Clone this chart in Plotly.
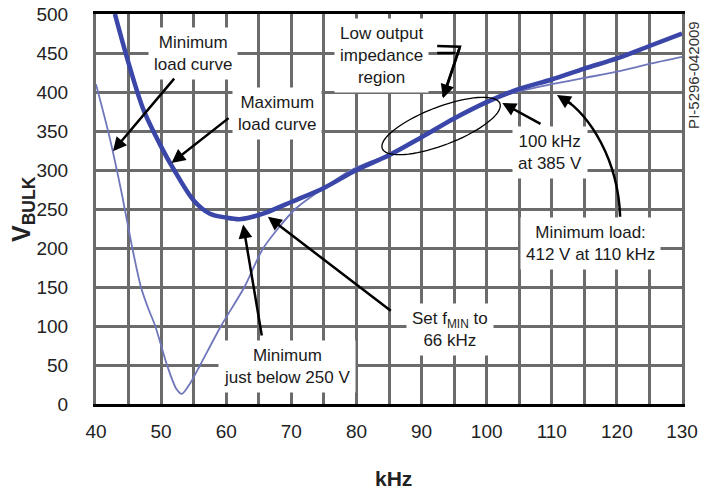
import numpy as np
import plotly.graph_objects as go

# maximum load curve (thick)
khz_max = [42.9, 45, 47.3, 50, 52, 55, 57.5, 60, 62, 64, 66, 70, 75, 80,
           85, 90, 95, 100, 105, 110, 115, 120, 125, 130]
v_max = [500, 437, 377, 330, 300, 261, 244, 239, 237, 240, 245, 259, 277, 300,
         319, 342, 366, 387, 404, 416, 430, 443, 459, 475]

# minimum load curve (thin)
khz_min = [40, 42, 44, 45.5, 46.9, 48, 49.1, 50.9, 52.3, 53.2, 54.5, 56, 59.2, 62.8, 65.7,
           70.6, 75, 79, 82, 85, 90, 95, 100, 105, 110, 115, 120, 125, 130]
v_min = [410, 345, 268, 203, 150, 123, 100, 50, 20, 13, 27, 50, 100, 150, 200,
         250, 277, 299, 310, 319, 341, 365, 387, 401, 410, 418, 426, 436, 445]

x_ticks = [40, 50, 60, 70, 80, 90, 100, 110, 120, 130]
y_ticks = [0, 50, 100, 150, 200, 250, 300, 350, 400, 450, 500]

FONT = "Liberation Sans, Arial, sans-serif"
GRID = "#6b6b6b"

fig = go.Figure()
fig.add_trace(go.Scatter(x=khz_min, y=v_min, mode="lines",
                         line=dict(color="#6f76bb", width=1.8, shape="spline", smoothing=0.7),
                         hoverinfo="skip"))
fig.add_trace(go.Scatter(x=khz_max, y=v_max, mode="lines",
                         line=dict(color="#3a46a8", width=4.5, shape="spline", smoothing=0.9),
                         hoverinfo="skip"))

# annotation boxes with arrows
def note(text, x, y, tip=None, tail=None):
    fig.add_annotation(text=text, x=x, y=y, xref="x", yref="y", showarrow=False,
                       font=dict(family=FONT, size=17, color="#1a1a1a"),
                       bgcolor="white", borderpad=5, align="center")
    if tip is not None:
        fig.add_annotation(x=tip[0], y=tip[1], ax=tail[0], ay=tail[1],
                           xref="x", yref="y", axref="x", ayref="y", text="",
                           showarrow=True, arrowhead=2, arrowsize=1.1,
                           arrowwidth=2.5, arrowcolor="black")

note("Minimum<br>load curve", 54.9, 449, tip=(42.6, 324), tail=(52.2, 419))
note("Maximum<br>load curve", 67.8, 372, tip=(51.6, 309), tail=(60.6, 368))
note("Low output<br>impedance<br>region", 83.9, 447)
note("100 kHz<br>at 385 V", 109.7, 322, tip=(102.4, 386), tail=(108.5, 358))
note("Minimum load:<br>412 V at 110 kHz", 115.9, 206)
note("Set f<sub>MIN</sub> to<br>66 kHz", 94.4, 95, tip=(66.4, 240), tail=(85.5, 118))
note("Minimum<br>just below 250 V", 69.3, 48, tip=(62.6, 230), tail=(65.5, 86))

# bracket pointing at low impedance region
fig.add_shape(type="path", xref="x", yref="y",
              path="M 92.4,459 L 95.9,458 L 93.3,394 M 92.4,450 L 95.2,450",
              line=dict(color="black", width=2.5))
fig.add_annotation(x=93.3, y=392, ax=95.9, ay=458, xref="x", yref="y", axref="x", ayref="y",
                   text="", showarrow=True, arrowhead=2, arrowsize=1.1,
                   arrowwidth=2.5, arrowcolor="black")

# ellipse around low impedance region (pixel offsets around anchor)
t = np.linspace(0, 2 * np.pi, 73)
th = np.radians(21)
ex = 63 * np.cos(t) * np.cos(th) - 19 * np.sin(t) * np.sin(th)
ey = 63 * np.cos(t) * np.sin(th) + 19 * np.sin(t) * np.cos(th)
epath = "M " + " L ".join(f"{a:.2f},{b:.2f}" for a, b in zip(ex, ey)) + " Z"
fig.add_shape(type="path", xref="x", yref="y", xsizemode="pixel", ysizemode="pixel",
              xanchor=93.0, yanchor=356.4, path=epath,
              line=dict(color="black", width=1.3))

# curved arrow for minimum load
fig.add_shape(type="path", xref="x", yref="y",
              path="M 120.5,240 C 120.2,313 115.9,370 111.6,393",
              line=dict(color="black", width=2.5))
fig.add_annotation(x=110.8, y=396, ax=16, ay=10, xref="x", yref="y",
                   text="", showarrow=True, arrowhead=2, arrowsize=1.1,
                   arrowwidth=2.5, arrowcolor="black")

# axis titles
fig.add_annotation(text="<b>V<sub>BULK</sub></b>", xref="paper", yref="paper",
                   x=-0.1246, y=0.5, xanchor="center", yanchor="middle",
                   textangle=-90, showarrow=False,
                   font=dict(family=FONT, size=25, color="#222222"))
fig.add_annotation(text="<b>kHz</b>", xref="paper", yref="paper",
                   x=0.507, y=-0.192, xanchor="center", yanchor="middle", showarrow=False,
                   font=dict(family=FONT, size=21, color="#222222"))

# figure id at right edge
fig.add_annotation(text="PI-5296-042009", xref="paper", yref="paper", x=1.0195, y=0.845,
                   xanchor="center", yanchor="middle", textangle=-90, showarrow=False,
                   font=dict(family=FONT, size=15, color="#333333"))

fig.update_layout(
    width=702, height=492,
    margin=dict(l=96, r=20, t=14, b=88),
    paper_bgcolor="white", plot_bgcolor="white",
    showlegend=False,
    font=dict(family=FONT, color="#222222"),
    xaxis=dict(range=[40, 130], tickvals=x_ticks, ticks="", ticklabelstandoff=8,
               tickfont=dict(size=19), automargin=False, ticklabeloverflow="allow",
               showgrid=True, gridcolor=GRID, gridwidth=2.5,
               minor=dict(dtick=5, tick0=40, showgrid=True, gridcolor=GRID, gridwidth=2.5),
               showline=True, linecolor="black", linewidth=3, mirror=True,
               zeroline=False),
    yaxis=dict(range=[0, 500], tickvals=y_ticks, ticks="", ticklabelstandoff=21,
               tickfont=dict(size=19), automargin=False, ticklabeloverflow="allow",
               showgrid=True, gridcolor=GRID, gridwidth=2.5,
               showline=True, linecolor=GRID, linewidth=3, mirror=True,
               zeroline=False),
)

# drop the default page margin so the figure fills the window exactly
fig.write_html("out.html", config={"displayModeBar": False},
               post_script="document.body.style.margin='0';"
                           "document.documentElement.style.overflow='hidden';")
